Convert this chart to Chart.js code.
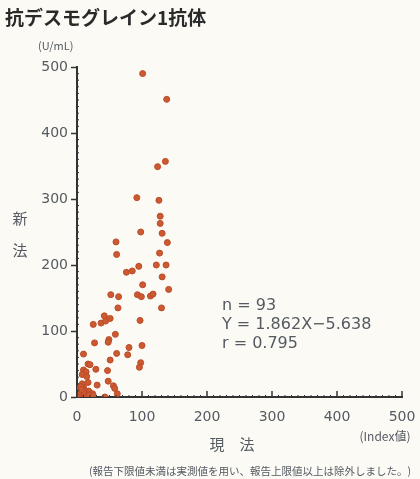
<!DOCTYPE html>
<html>
<head>
<meta charset="utf-8">
<script src="https://cdn.jsdelivr.net/npm/chart.js@4.4.1/dist/chart.umd.min.js"></script>
<style>
  html, body { margin: 0; padding: 0; background: #fbfaf5; }
  #wrap { width: 420px; height: 479px; }
</style>
</head>
<body>
<div id="wrap"><canvas id="myChart" width="420" height="479"></canvas></div>
<script>
// 現法 (Index値)
const currentValues = [
    101, 138, 136, 124, 92, 126, 128, 128, 98, 131,
    60, 139, 61, 127, 95, 122, 137, 76, 85, 131,
    101, 141, 52, 64, 93, 99, 113, 117, 63, 130,
    42, 25, 37, 44, 51, 97, 59, 27, 49, 48,
    80, 100, 10, 61, 78, 51, 98, 96, 17, 20,
    10, 14, 29, 47, 8, 15, 17, 31, 48, 56,
    58, 62, 43, 8, 10,
    2, 4, 5, 7, 9, 11, 12, 13, 3, 6,
    8, 14, 16, 18, 20, 22, 5, 9, 12, 15,
    3, 6, 24, 1, 10, 19, 7, 25
];
// 新法 (U/mL)
const newValues = [
    490, 451, 357, 349, 302, 298, 274, 263, 250, 248,
    235, 234, 216, 218, 198, 200, 200, 189, 191, 182,
    170, 163, 155, 152, 155, 152, 153, 156, 135, 135,
    123, 110, 112, 115, 119, 116, 95, 82, 87, 83,
    75, 78, 65, 66, 64, 56, 52, 45, 50, 49,
    41, 38, 42, 40, 34, 31, 22, 18, 24, 17,
    13, 5, 0, 20, 15,
    1, 3, 0, 2, 5, 1, 4, 0, 8, 10,
    12, 6, 2, 9, 3, 0, 14, 6, 10, 1,
    4, 16, 5, 0, 8, 3, 11, 2
];
const tickValues = [0, 100, 200, 300, 400, 500];
const statLines = ['n = 93', 'Y = 1.862X\u22125.638', 'r = 0.795'];

const points = currentValues.map((x, i) => ({ x: x, y: newValues[i] }));

const axisColor = '#333';
const textColor = '#555a62';
const numFont = { family: 'DejaVu Sans, sans-serif', size: 14 };
const jpFont = '"Noto Sans CJK JP", sans-serif';

const decorations = {
    id: 'decorations',
    afterDraw(chart) {
        const ctx = chart.ctx;
        const xs = chart.scales.x;
        const ys = chart.scales.y;
        const area = chart.chartArea;
        ctx.save();
        // x major ticks pointing up, minor ticks on both axes
        ctx.strokeStyle = axisColor;
        ctx.lineWidth = 1.5;
        tickValues.forEach(v => {
            const px = xs.getPixelForValue(v);
            ctx.beginPath();
            ctx.moveTo(px, area.bottom);
            ctx.lineTo(px, area.bottom - 6);
            ctx.stroke();
        });
        ctx.lineWidth = 1;
        for (let v = 10; v < 500; v += 10) {
            if (v % 100 === 0) continue;
            const px = xs.getPixelForValue(v);
            ctx.beginPath();
            ctx.moveTo(px, area.bottom);
            ctx.lineTo(px, area.bottom - 2);
            ctx.stroke();
            const py = ys.getPixelForValue(v);
            ctx.beginPath();
            ctx.moveTo(area.left, py);
            ctx.lineTo(area.left + 2, py);
            ctx.stroke();
        }

        // title and labels
        ctx.fillStyle = '#2a2a2a';
        ctx.font = 'bold 19px ' + jpFont;
        ctx.textBaseline = 'middle';
        ctx.textAlign = 'left';
        ctx.fillText('抗デスモグレイン1抗体', 5, 18);

        ctx.fillStyle = textColor;
        ctx.font = '11px ' + jpFont;
        ctx.fillText('(U/mL)', 38, 46);

        ctx.font = '15px ' + jpFont;
        ctx.textAlign = 'center';
        ctx.fillText('新', 20, 218);
        ctx.fillText('法', 20, 250);
        ctx.fillText('現　法', 232, 444);

        ctx.font = '12px ' + jpFont;
        ctx.fillText('(Index値)', 385, 436);

        ctx.font = '10.5px ' + jpFont;
        ctx.fillText('(報告下限値未満は実測値を用い、報告上限値以上は除外しました。)', 250, 471);

        ctx.font = '16px DejaVu Sans, sans-serif';
        ctx.textAlign = 'left';
        statLines.forEach((s, i) => ctx.fillText(s, 222, 306 + i * 19));
        ctx.restore();
    }
};

new Chart(document.getElementById('myChart'), {
    type: 'scatter',
    data: {
        datasets: [{
            label: '抗デスモグレイン1抗体',
            data: points,
            backgroundColor: '#cc5a30',
            borderColor: '#bb4a2a',
            borderWidth: 1,
            pointRadius: 3,
            pointStyle: 'circle'
        }]
    },
    options: {
        responsive: false,
        animation: false,
        layout: { padding: { left: 0, top: 67, right: 18, bottom: 47 } },
        plugins: {
            legend: { display: false },
            tooltip: { enabled: false }
        },
        scales: {
            x: {
                type: 'linear',
                min: 0,
                max: 500,
                afterBuildTicks: s => { s.ticks = tickValues.map(v => ({ value: v })); },
                afterFit: s => { s.height = 35; },
                grid: { display: false },
                border: { display: true, color: axisColor, width: 2 },
                ticks: { color: textColor, font: numFont, padding: 4, maxRotation: 0 }
            },
            y: {
                type: 'linear',
                min: 0,
                max: 500,
                afterBuildTicks: s => { s.ticks = tickValues.map(v => ({ value: v })); },
                afterFit: s => { s.width = 77; },
                grid: { display: true, drawOnChartArea: false, tickLength: 6, tickColor: axisColor, tickWidth: 1.5 },
                border: { display: true, color: axisColor, width: 2 },
                ticks: { color: textColor, font: numFont, padding: 3 }
            }
        }
    },
    plugins: [decorations]
});
</script>
</body>
</html>
